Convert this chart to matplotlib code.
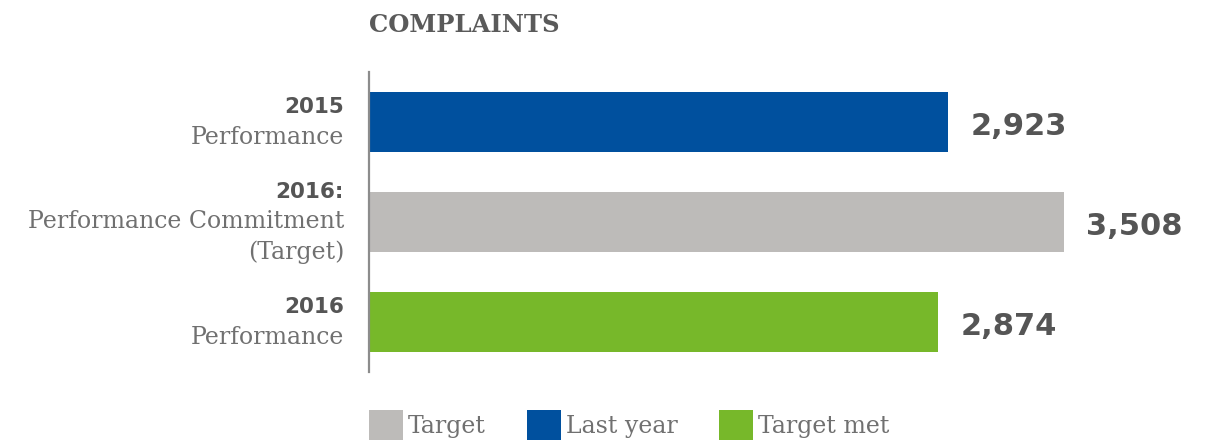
import matplotlib.pyplot as plt
from matplotlib.patches import Patch

# data
years = ['2015', '2016:', '2016']
subtitles = ['Performance', 'Performance Commitment\n(Target)', 'Performance']
values = [2923, 3508, 2874]
bar_colors = ['#00509e', '#bdbbb9', '#77b82a']
legend_labels = ['Target', 'Last year', 'Target met']
legend_colors = ['#bdbbb9', '#00509e', '#77b82a']

W, H = 1208, 442
fig = plt.figure(figsize=(W / 100, H / 100), dpi=100)
ax = fig.add_axes([369 / W, (H - 372) / H, (W - 369) / W, 300 / H])

ypos = list(range(len(values)))
ax.barh(ypos, values, height=0.6, color=bar_colors)
ax.set_ylim(2.5, -0.5)
ax.set_xlim(0, 4235)

# only the left spine
for s in ['top', 'right', 'bottom']:
    ax.spines[s].set_visible(False)
ax.spines['left'].set_color('#8c8c8c')
ax.spines['left'].set_linewidth(1.6)
ax.set_xticks([])
ax.set_yticks([])

# value labels
for y, v in zip(ypos, values):
    ax.annotate(f'{v:,}', xy=(v, y), xytext=(16, -3), textcoords='offset points',
                ha='left', va='center', fontsize=22, fontweight='bold',
                family='DejaVu Sans', color='#555555')

# category labels: bold year + light serif description
step = 21.6
for y, yr, sub in zip(ypos, years, subtitles):
    lines = [yr] + sub.split('\n')
    n = len(lines)
    for i, line in enumerate(lines):
        dy = ((n - 1) / 2 - i) * step
        if i == 0:
            kw = dict(fontsize=15.5, fontweight='bold', family='DejaVu Sans', color='#555555')
        else:
            kw = dict(fontsize=17, family='DejaVu Serif', color='#707070')
        ax.annotate(line, xy=(0, y), xycoords=('axes fraction', 'data'),
                    xytext=(-18, dy), textcoords='offset points',
                    ha='right', va='center', **kw)

fig.text(369 / W, 1 - 25 / H, 'COMPLAINTS', ha='left', va='center',
         fontsize=17.5, fontweight='bold', family='DejaVu Serif', color='#5a5a5a')

handles = [Patch(facecolor=c, edgecolor='none') for c in legend_colors]
leg = fig.legend(handles, legend_labels, loc='upper left',
                 bbox_to_anchor=(369 / W, 1 - 410 / H), ncol=3, frameon=False,
                 prop={'family': 'DejaVu Serif', 'size': 17},
                 handlelength=1.45, handleheight=1.55, handletextpad=0.2,
                 columnspacing=1.75, borderpad=0, borderaxespad=0)
for t in leg.get_texts():
    t.set_color('#707070')

fig.savefig('out.png', dpi=100)
